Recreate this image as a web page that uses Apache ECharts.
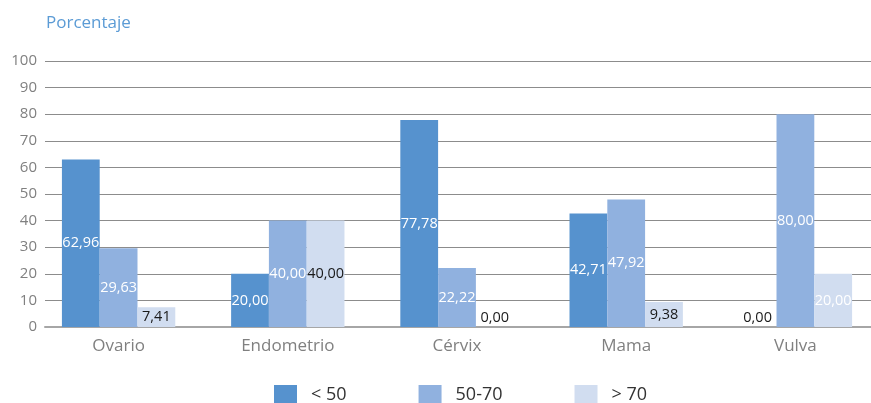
<!DOCTYPE html>
<html>
<head>
<meta charset="utf-8">
<script src="https://cdn.jsdelivr.net/npm/echarts@6/dist/echarts.min.js"></script>
<style>
  html, body { margin: 0; padding: 0; background: #fff; }
  #main { width: 871px; height: 403px; }
</style>
</head>
<body>
<div id="main"></div>
<script>
const categories = ["Ovario", "Endometrio", "Cérvix", "Mama", "Vulva"];
const seriesNames = ["< 50", "50-70", "> 70"];
const under50 = [62.96, 20.0, 77.78, 42.71, 0.0];
const from50to70 = [29.63, 40.0, 22.22, 47.92, 80.0];
const over70 = [7.41, 40.0, 0.0, 9.38, 20.0];
const yTicks = [0, 10, 20, 30, 40, 50, 60, 70, 80, 90, 100];

const colors = ["#5692ce", "#90b1df", "#d1ddf0"];
// label colour per bar: dark text where the reference uses it
const labelDark = [
  [false, false, false, false, true],
  [false, false, false, false, false],
  [true, true, true, true, false],
];

const fmt = (v) => v.toFixed(2).replace(".", ",");

function makeData(values, s) {
  return values.map((v, i) => ({
    value: v,
    label: {
      color: labelDark[s][i] ? "#1a1a1a" : "#ffffff",
      position: v === 0 ? "insideBottom" : "inside",
      distance: 2,
    },
  }));
}

const myChart = echarts.init(document.getElementById("main"));
myChart.setOption({
  animation: false,
  textStyle: { fontFamily: "Open Sans" },
  title: {
    text: "Porcentaje",
    left: 41,
    top: 10,
    textStyle: { color: "#5b9bd5", fontSize: 17, fontWeight: "normal", fontFamily: "Open Sans" },
  },
  legend: {
    top: 380,
    left: 269,
    itemWidth: 23,
    itemHeight: 20,
    itemGap: 72,
    icon: "rect",
    data: seriesNames,
    textStyle: { color: "#333", fontSize: 18, padding: [0, 0, 0, 9], fontFamily: "Open Sans" },
  },
  grid: [
    { left: 45, right: 0, top: 61, bottom: 76 },
    { left: 34, width: 846, top: 61, bottom: 76, outerBoundsMode: "none" },
  ],
  xAxis: [
    {
      gridIndex: 0,
      type: "category",
      data: categories,
      axisLine: { show: true, lineStyle: { color: "#a6a6a6", width: 2 } },
      axisTick: { show: false },
      axisLabel: { show: false },
    },
    {
      gridIndex: 1,
      type: "category",
      data: categories,
      axisLine: { show: false },
      axisTick: { show: false },
      axisLabel: { color: "#808080", fontSize: 17, margin: 11, fontFamily: "Open Sans" },
    },
  ],
  yAxis: [
    {
      gridIndex: 0,
      type: "value",
      min: yTicks[0],
      max: yTicks[yTicks.length - 1],
      interval: 10,
      axisLine: { show: false },
      axisTick: { show: false },
      axisLabel: { color: "#808080", fontSize: 15, margin: 8, fontFamily: "Open Sans" },
      splitLine: { lineStyle: { color: "#8c8c8c", width: 1 } },
    },
    {
      gridIndex: 1,
      type: "value",
      min: yTicks[0],
      max: yTicks[yTicks.length - 1],
      show: false,
      splitLine: { show: false },
    },
  ],
  series: [under50, from50to70, over70].map((vals, s) => ({
    name: seriesNames[s],
    type: "bar",
    xAxisIndex: 1,
    yAxisIndex: 1,
    barGap: 0,
    barCategoryGap: "33%",
    itemStyle: { color: colors[s] },
    label: {
      show: true,
      fontSize: 14.5,
      fontFamily: "Open Sans",
      formatter: (p) => fmt(p.value),
    },
    data: makeData(vals, s),
  })),
});
</script>
</body>
</html>
